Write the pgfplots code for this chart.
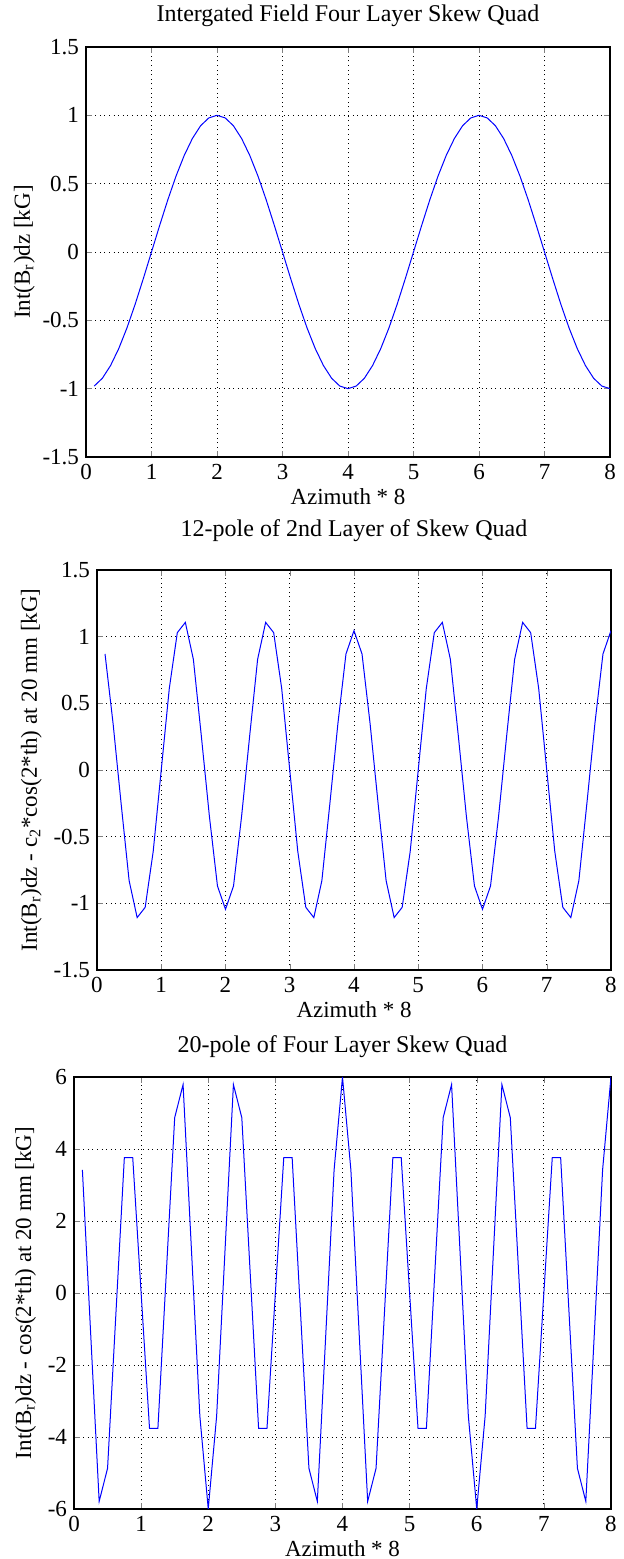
\documentclass[border=0pt]{standalone}
\usepackage{fontspec}
\setmainfont{Liberation Serif}
\usepackage{pgfplots}
\usepackage{pgfplotstable}
\pgfplotsset{compat=1.18}

% sampled every 1/8 of "Azimuth * 8"
\pgfplotstableread{
x y
0.125 -0.981
0.25 -0.924
0.375 -0.831
0.5 -0.707
0.625 -0.556
0.75 -0.383
0.875 -0.195
1 0
1.125 0.195
1.25 0.383
1.375 0.556
1.5 0.707
1.625 0.831
1.75 0.924
1.875 0.981
2 1
2.125 0.981
2.25 0.924
2.375 0.831
2.5 0.707
2.625 0.556
2.75 0.383
2.875 0.195
3 0
3.125 -0.195
3.25 -0.383
3.375 -0.556
3.5 -0.707
3.625 -0.831
3.75 -0.924
3.875 -0.981
4 -1
4.125 -0.981
4.25 -0.924
4.375 -0.831
4.5 -0.707
4.625 -0.556
4.75 -0.383
4.875 -0.195
5 0
5.125 0.195
5.25 0.383
5.375 0.556
5.5 0.707
5.625 0.831
5.75 0.924
5.875 0.981
6 1
6.125 0.981
6.25 0.924
6.375 0.831
6.5 0.707
6.625 0.556
6.75 0.383
6.875 0.195
7 0
7.125 -0.195
7.25 -0.383
7.375 -0.556
7.5 -0.707
7.625 -0.831
7.75 -0.924
7.875 -0.981
8 -1
}\quadfield

% values in units of 1e-3
\pgfplotstableread{
x y
0.125 0.87
0.25 0.35
0.375 -0.25
0.5 -0.83
0.625 -1.107
0.75 -1.03
0.875 -0.61
1 0
1.125 0.61
1.25 1.03
1.375 1.107
1.5 0.83
1.625 0.25
1.75 -0.35
1.875 -0.87
2 -1.045
2.125 -0.87
2.25 -0.35
2.375 0.25
2.5 0.83
2.625 1.107
2.75 1.03
2.875 0.61
3 0
3.125 -0.61
3.25 -1.03
3.375 -1.107
3.5 -0.83
3.625 -0.25
3.75 0.35
3.875 0.87
4 1.045
4.125 0.87
4.25 0.35
4.375 -0.25
4.5 -0.83
4.625 -1.107
4.75 -1.03
4.875 -0.61
5 0
5.125 0.61
5.25 1.03
5.375 1.107
5.5 0.83
5.625 0.25
5.75 -0.35
5.875 -0.87
6 -1.045
6.125 -0.87
6.25 -0.35
6.375 0.25
6.5 0.83
6.625 1.107
6.75 1.03
6.875 0.61
7 0
7.125 -0.61
7.25 -1.03
7.375 -1.107
7.5 -0.83
7.625 -0.25
7.75 0.35
7.875 0.87
8 1.045
}\twelvepole

% values in units of 1e-5
\pgfplotstableread{
x y
0.125 3.42
0.25 -1.19
0.375 -5.79
0.5 -4.87
0.625 -0.55
0.75 3.76
0.875 3.76
1 0
1.125 -3.76
1.25 -3.76
1.375 0.55
1.5 4.87
1.625 5.79
1.75 1.19
1.875 -3.42
2 -6
2.125 -3.42
2.25 1.19
2.375 5.79
2.5 4.87
2.625 0.55
2.75 -3.76
2.875 -3.76
3 0
3.125 3.76
3.25 3.76
3.375 -0.55
3.5 -4.87
3.625 -5.79
3.75 -1.19
3.875 3.42
4 6
4.125 3.42
4.25 -1.19
4.375 -5.79
4.5 -4.87
4.625 -0.55
4.75 3.76
4.875 3.76
5 0
5.125 -3.76
5.25 -3.76
5.375 0.55
5.5 4.87
5.625 5.79
5.75 1.19
5.875 -3.42
6 -6
6.125 -3.42
6.25 1.19
6.375 5.79
6.5 4.87
6.625 0.55
6.75 -3.76
6.875 -3.76
7 0
7.125 3.76
7.25 3.76
7.375 -0.55
7.5 -4.87
7.625 -5.79
7.75 -1.19
7.875 3.42
8 6
}\twentypole

\pgfplotsset{
  matlab/.style={
    scale only axis,
    anchor=north west,
    xmin=0, xmax=8, xtick={0,...,8},
    axis line style={line width=0.6pt},
    tick align=inside, tick pos=both,
    major tick length=3pt,
    grid=major,
    major grid style={black, line width=0.4pt, dash pattern=on 0.5pt off 1.8pt},
    /pgf/number format/assume math mode=true,
    ticklabel style={font=\fontsize{11.5}{13}\selectfont},
    label style={font=\fontsize{11.5}{13}\selectfont},
    xlabel style={yshift=2.5pt},
    title style={font=\fontsize{12}{14}\selectfont, at={(0.5,1)}, anchor=base, inner sep=0pt, yshift=10pt},
    xlabel={Azimuth * 8},
    scaled ticks=false,
  },
  trace/.style={blue, line width=0.5pt, no marks},
}

\begin{document}
\begin{tikzpicture}
\path[use as bounding box] (0,0) rectangle (312pt,779.5pt);

\begin{axis}[matlab,
  at={(43pt,756pt)}, width=262pt, height=205pt,
  ymin=-1.5, ymax=1.5, ytick={-1.5,-1,...,1.5},
  title style={yshift=-3.5pt},
  title={Intergated Field Four Layer Skew Quad},
  ylabel={Int(B\textsubscript{r})dz [kG]},
  ylabel shift=-3pt,
]
\addplot[trace] table[x=x, y=y] {\quadfield};
\end{axis}

\begin{axis}[matlab,
  at={(48.5pt,494.5pt)}, width=257pt, height=200pt,
  ymin=-1.5, ymax=1.5, ytick={-1.5,-1,...,1.5},
  title style={yshift=0.5pt},
  title={12-pole of 2nd Layer of Skew Quad},
  ylabel={Int(B\textsubscript{r})dz - c\textsubscript{2}*cos(2*th) at 20 mm [kG]},
  ylabel shift=-1pt,
]
\addplot[trace] table[x=x, y=y] {\twelvepole};
\node[anchor=base west, inner sep=0pt, font=\fontsize{11.5}{13}\selectfont]
  at (rel axis cs:0,1) [yshift=3pt] {x 10\textsuperscript{-3}};
\end{axis}

\begin{axis}[matlab,
  at={(37pt,241pt)}, width=268.5pt, height=216pt,
  ymin=-6, ymax=6, ytick={-6,-4,...,6},
  title style={yshift=-4pt},
  title={20-pole of Four Layer Skew Quad},
  ylabel={Int(B\textsubscript{r})dz - cos(2*th) at 20 mm [kG]},
  ylabel shift=-1pt,
]
\addplot[trace] table[x=x, y=y] {\twentypole};
\node[anchor=base west, inner sep=0pt, font=\fontsize{11.5}{13}\selectfont]
  at (rel axis cs:0,1) [yshift=3pt] {x 10\textsuperscript{-5}};
\end{axis}
\end{tikzpicture}
\end{document}
